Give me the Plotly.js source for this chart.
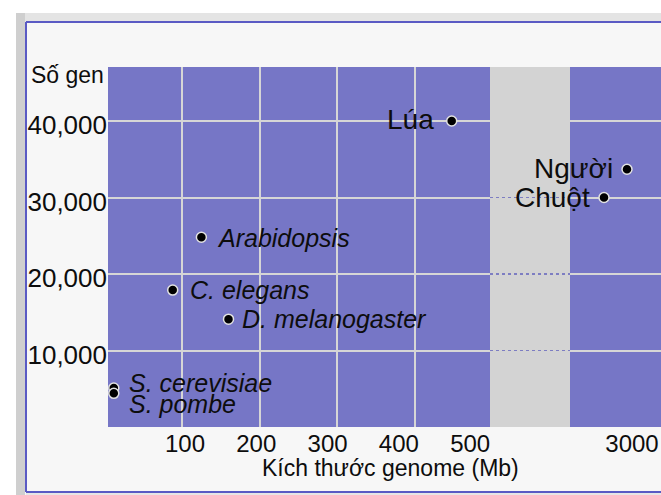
<!DOCTYPE html>
<html><head><meta charset="utf-8">
<script src="https://cdn.plot.ly/plotly-3.0.1.min.js"></script>
<style>html,body{margin:0;padding:0;background:#fff}#chart{width:661px;height:495px}</style>
</head><body><div id="chart"></div>
<script>
// ---- data ----
const speciesSmall = ['S. cerevisiae', 'S. pombe', 'C. elegans', 'Arabidopsis', 'D. melanogaster', 'Lúa'];
const sizeSmall = [12, 12, 88, 125, 160, 448];          // Mb
const genesSmall = [5100, 4400, 17900, 24800, 14100, 40000];
const speciesLarge = ['Người', 'Chuột'];
const sizeLarge = [2950, 2720];                           // Mb
const genesLarge = [33700, 30000];
const xTickValues = [100, 200, 300, 400, 500];
const xTickLarge = [3000];
const yTickValues = [10000, 20000, 30000, 40000];
const yTitle = 'Số gen';
const xTitle = 'Kích thước genome (Mb)';

// ---- styles ----
const FONT = 'Liberation Sans, Arial, Helvetica, sans-serif';
const TXT = '#0d0d0d';
const PURPLE = '#7676c6';
const GRID = '#d6d6d6';
const labelStyle = {
  'S. cerevisiae': {side: 'left', dx: 13, dy: 5, italic: true, size: 25},
  'S. pombe': {side: 'left', dx: 13, dy: -11, italic: true, size: 25},
  'C. elegans': {side: 'left', dx: 15, dy: 0, italic: true, size: 25},
  'Arabidopsis': {side: 'left', dx: 14, dy: -1, italic: true, size: 25},
  'D. melanogaster': {side: 'left', dx: 11, dy: 0, italic: true, size: 25},
  'Lúa': {side: 'right', dx: -16, dy: 2, italic: false, size: 28},
  'Người': {side: 'right', dx: -12, dy: 1, italic: false, size: 28},
  'Chuột': {side: 'right', dx: -12, dy: 0, italic: false, size: 28}
};

const marker = {size: 10, color: '#000', line: {color: '#e2e2e2', width: 1.5}};

const traces = [
  {type: 'scatter', mode: 'markers', x: sizeSmall, y: genesSmall, text: speciesSmall,
   xaxis: 'x', yaxis: 'y', marker: marker, hoverinfo: 'text', showlegend: false},
  {type: 'scatter', mode: 'markers', x: sizeLarge, y: genesLarge, text: speciesLarge,
   xaxis: 'x2', yaxis: 'y', marker: marker, hoverinfo: 'text', showlegend: false},
  {type: 'scatter', mode: 'markers', x: [], y: [], xaxis: 'x3', yaxis: 'y2', showlegend: false},
  {type: 'scatter', mode: 'markers', x: [], y: [], xaxis: 'x4', yaxis: 'y', showlegend: false}
];

function lab(name, x, y, xref) {
  const s = labelStyle[name];
  return {
    x: x, y: y, xref: xref, yref: 'y', text: s.italic ? '<i>' + name + '</i>' : name,
    showarrow: false, xanchor: s.side, yanchor: 'middle', xshift: s.dx, yshift: s.dy,
    font: {family: FONT, size: s.size, color: TXT}
  };
}
const annotations = [];
speciesSmall.forEach((n, i) => annotations.push(lab(n, sizeSmall[i], genesSmall[i], 'x')));
speciesLarge.forEach((n, i) => annotations.push(lab(n, sizeLarge[i], genesLarge[i], 'x2')));

// pixel helpers for frame / titles (plot area: 108..661 x, 67..427 y)
const PL = 108, PW = 553, PT = 67, PH = 360;
const px = v => (v - PL) / PW;
const py = v => (PT + PH - v) / PH;

annotations.push({xref: 'paper', yref: 'paper', x: px(106), y: py(75), xanchor: 'right', yanchor: 'middle',
  text: yTitle, showarrow: false, font: {family: FONT, size: 23, color: TXT}});
annotations.push({xref: 'paper', yref: 'paper', x: px(390), y: py(468), xanchor: 'center', yanchor: 'middle',
  text: xTitle, showarrow: false, font: {family: FONT, size: 23, color: TXT}});

function rect(x0, y0, x1, y1, color) {
  return {type: 'rect', xref: 'paper', yref: 'paper', x0: px(x0), x1: px(x1), y0: py(y0), y1: py(y1),
    fillcolor: color, line: {width: 0}, layer: 'below'};
}
function line(x0, y0, x1, y1) {
  return {type: 'line', xref: 'paper', yref: 'paper', x0: px(x0), x1: px(x1), y0: py(y0), y1: py(y1),
    line: {color: '#5a5ac4', width: 2}, layer: 'below'};
}
const shapes = [
  rect(0, 0, 670, 13, '#ffffff'),
  rect(0, 0, 16, 500, '#ffffff'),
  rect(16, 13, 670, 22, '#e4e4e4'),
  rect(16, 13, 25, 500, '#cfcfcf'),
  rect(26, 492, 670, 500, '#e6e6e6'),
  line(26, 22, 670, 22),
  line(26, 22, 26, 492),
  line(26, 492, 670, 492),
  {type: 'rect', xref: 'x3 domain', yref: 'y2 domain', x0: 0, x1: 1, y0: 0, y1: 1,
   fillcolor: '#d3d3d3', line: {width: 0}, layer: 'below'}
];

const xTickFont = {family: FONT, size: 24, color: TXT};
const yTickFont = {family: FONT, size: 26, color: TXT};
const d1 = [0, px(490)], d3 = [px(490), px(570)], d2 = [px(570), 1];

const layout = {
  width: 661, height: 495,
  margin: {l: PL, r: 0, t: PT, b: 495 - PT - PH, pad: 0},
  paper_bgcolor: '#f7f7f7', plot_bgcolor: PURPLE,
  showlegend: false,
  xaxis: {domain: d1, range: [4.5, 497.4], anchor: 'y', tickmode: 'array', tickvals: xTickValues,
    showticklabels: false, ticks: '', showgrid: true, gridcolor: GRID, gridwidth: 2,
    zeroline: false, showline: false, fixedrange: true},
  xaxis4: {overlaying: 'x', anchor: 'y', side: 'bottom', range: [-8, 527.8], tickmode: 'array',
    tickvals: xTickValues, ticktext: xTickValues.map(String), tickfont: xTickFont, ticks: '',
    showgrid: false, zeroline: false, showline: false, fixedrange: true},
  xaxis3: {domain: d3, anchor: 'y2', range: [0, 1], showticklabels: false, ticks: '', showgrid: false,
    zeroline: false, showline: false, fixedrange: true},
  xaxis2: {domain: d2, anchor: 'y', range: [2380, 3290], tickmode: 'array', tickvals: xTickLarge,
    ticktext: xTickLarge.map(String), tickfont: xTickFont, ticks: '', showgrid: false,
    zeroline: false, showline: false, fixedrange: true},
  yaxis: {anchor: 'x', range: [0, 47060], tickmode: 'array', tickvals: yTickValues, tickformat: ',',
    tickfont: yTickFont, ticks: '', ticklabelshift: 4, showgrid: true, gridcolor: GRID, gridwidth: 2,
    zeroline: false, showline: false, fixedrange: true},
  yaxis2: {anchor: 'x3', matches: 'y', range: [0, 47060], tickmode: 'array', tickvals: yTickValues.slice(0, 3),
    showticklabels: false, ticks: '', showgrid: true, gridcolor: '#7d7dc2', gridwidth: 1.5,
    griddash: 'dot', zeroline: false, showline: false, fixedrange: true},
  shapes: shapes,
  annotations: annotations
};

Plotly.newPlot('chart', traces, layout, {displayModeBar: false, staticPlot: true});
</script>
</body></html>
